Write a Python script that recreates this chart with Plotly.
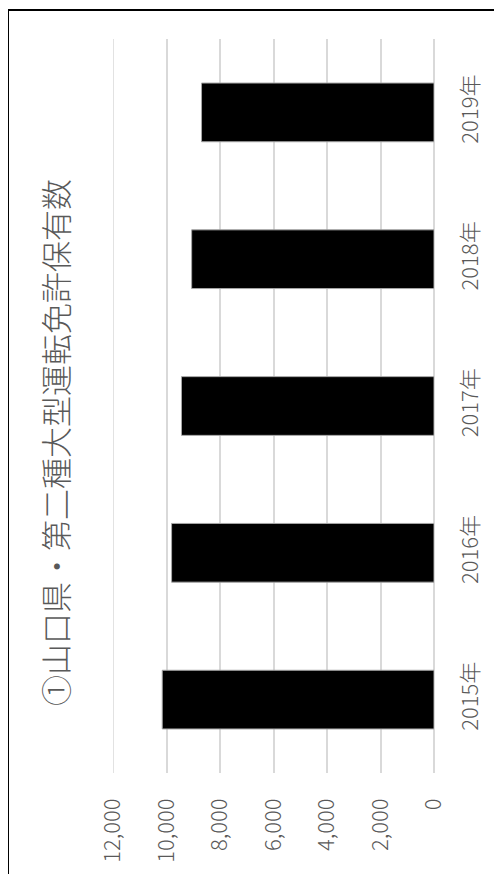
import plotly.graph_objects as go

categories = ["2015年", "2016年", "2017年", "2018年", "2019年"]
values = [10160, 9810, 9440, 9060, 8690]
tick_vals = [0, 2000, 4000, 6000, 8000, 10000, 12000]
title_text = "①山口県・第二種大型運転免許保有数"

# page has an 8px body margin; positions below are in figure coordinates
OFF = 8
W, H = 502 - OFF, 874 - OFF
L, R, T, B = 105, 68, 31, 101
pw, ph = W - L - R, H - T - B

def px2paper_x(px):
    return (px - OFF - L) / pw

def px2paper_y(py):
    return (H - B - (py - OFF)) / ph

font_family = "Noto Sans CJK JP"
gray = "#595959"
grid = "#d9d9d9"

fig = go.Figure(go.Bar(
    y=categories, x=values, orientation="h",
    marker=dict(color="#000000", line=dict(color="#a6a6a6", width=1)),
    hoverinfo="skip",
))

fig.update_layout(
    width=W, height=H,
    margin=dict(l=L, r=R, t=T, b=B, autoexpand=False),
    paper_bgcolor="white", plot_bgcolor="white",
    bargap=0.6,
    showlegend=False,
    font=dict(family=font_family, color=gray, size=22, weight=300),
    xaxis=dict(
        range=[tick_vals[-1], tick_vals[0]], tickvals=tick_vals, tickformat=",",
        tickangle=-90, showgrid=True, gridcolor=grid, gridwidth=1.5,
        zeroline=True, zerolinecolor=grid, zerolinewidth=1.5,
        showline=False, ticks="", ticklabelstandoff=20,
        tickfont=dict(size=22, color=gray, family=font_family, weight=300),
        fixedrange=True,
    ),
    yaxis=dict(
        categoryorder="array", categoryarray=categories,
        side="right", tickangle=-90, showgrid=False, zeroline=False,
        showline=False, ticks="", ticklabelstandoff=21,
        tickfont=dict(size=22, color=gray, family=font_family, weight=300),
        fixedrange=True,
    ),
    annotations=[dict(
        text=title_text, xref="paper", yref="paper",
        x=px2paper_x(54), y=px2paper_y(443),
        xanchor="center", yanchor="middle", textangle=-90,
        showarrow=False,
        font=dict(size=31, color=gray, family=font_family, weight=300),
    )],
    shapes=[
        dict(
            type="line", xref="x", yref="paper",
            x0=tick_vals[-1], x1=tick_vals[-1], y0=0, y1=1,
            line=dict(color=grid, width=1.5), layer="below",
        ),
        dict(
            type="rect", xref="paper", yref="paper",
            x0=px2paper_x(8), x1=px2paper_x(502 + 20),
            y0=px2paper_y(874 + 20), y1=px2paper_y(10),
            line=dict(color="black", width=2), fillcolor="rgba(0,0,0,0)",
            layer="above",
        ),
    ],
)

fig.write_html("out.html")
